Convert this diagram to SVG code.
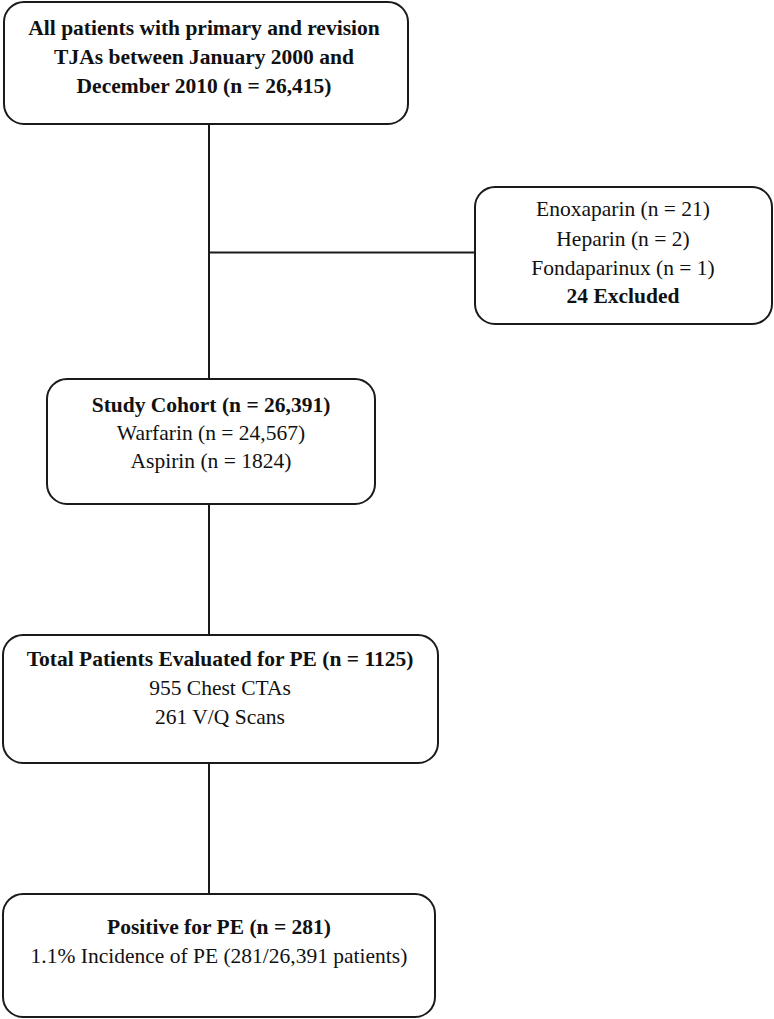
<svg xmlns="http://www.w3.org/2000/svg" width="774" height="1019" viewBox="0 0 774 1019">
<style>
.box{fill:#fff;stroke:#1a1a1a;stroke-width:2}
.conn{stroke:#1a1a1a;stroke-width:2;fill:none}
text{font-family:"Liberation Serif","Times New Roman",serif;font-size:21.5px;fill:#111;text-anchor:middle}
.b{font-weight:bold}
</style>
<rect width="774" height="1019" fill="#fff"/>
<g id="connectors">
<line class="conn" x1="209" y1="124" x2="209" y2="379"/>
<line class="conn" x1="209" y1="252.5" x2="475" y2="252.5"/>
<line class="conn" x1="209" y1="504" x2="209" y2="635"/>
<line class="conn" x1="209" y1="763" x2="209" y2="894"/>
</g>
<g id="node-all">
<rect class="box" x="4" y="2" width="404" height="122" rx="20"/>
<text class="b" x="204" y="35">All patients with primary and revision</text>
<text class="b" x="204" y="64">TJAs between January 2000 and</text>
<text class="b" x="204" y="93">December 2010 (n = 26,415)</text>
</g>
<g id="node-excluded">
<rect class="box" x="475" y="187" width="297" height="137" rx="20"/>
<text x="623" y="216">Enoxaparin (n = 21)</text>
<text x="623" y="246">Heparin (n = 2)</text>
<text x="623" y="275">Fondaparinux (n = 1)</text>
<text class="b" x="623" y="303">24 Excluded</text>
</g>
<g id="node-cohort">
<rect class="box" x="47" y="379" width="328" height="125" rx="20"/>
<text class="b" x="211" y="412">Study Cohort (n = 26,391)</text>
<text x="211" y="440">Warfarin (n = 24,567)</text>
<text x="211" y="468">Aspirin (n = 1824)</text>
</g>
<g id="node-evaluated">
<rect class="box" x="3" y="635" width="435" height="128" rx="20"/>
<text class="b" x="220" y="666">Total Patients Evaluated for PE (n = 1125)</text>
<text x="220" y="695">955 Chest CTAs</text>
<text x="220" y="724">261 V/Q Scans</text>
</g>
<g id="node-positive">
<rect class="box" x="3" y="894" width="432" height="123" rx="20"/>
<text class="b" x="219" y="934">Positive for PE (n = 281)</text>
<text x="219" y="963">1.1% Incidence of PE (281/26,391 patients)</text>
</g>
</svg>
